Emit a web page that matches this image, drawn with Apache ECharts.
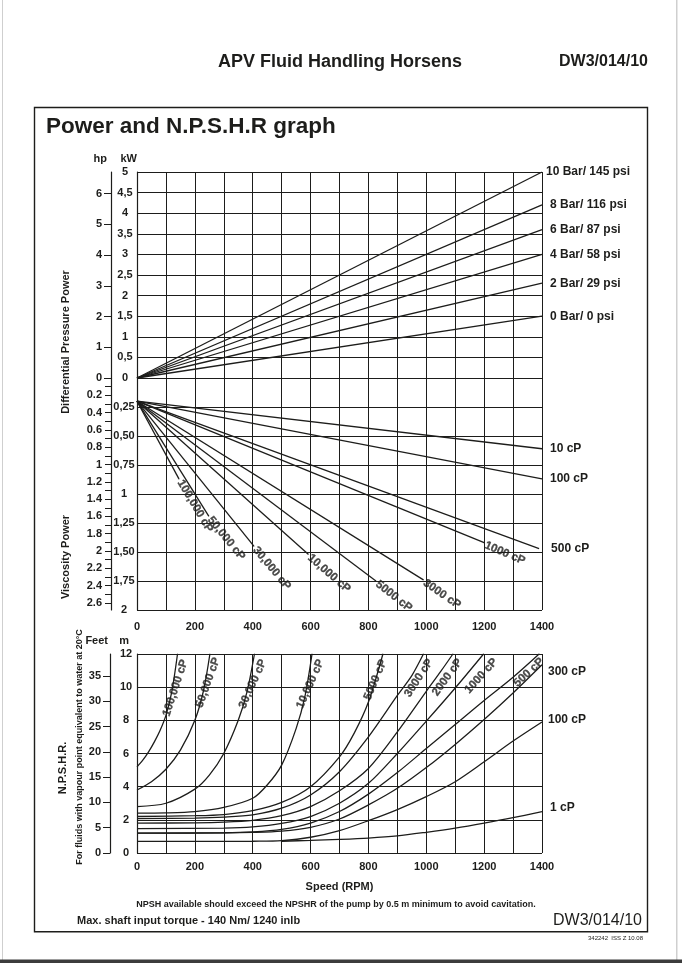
<!DOCTYPE html>
<html><head><meta charset="utf-8">
<script src="https://cdn.jsdelivr.net/npm/echarts@6/dist/echarts.min.js"></script>
<style>html,body{margin:0;padding:0;background:#fff}#c{width:682px;height:963px}</style>
</head><body><div id="c"></div><script>
// ---------- DATA ----------
const rpmMin = 0, rpmMax = 1400;
// Differential pressure power (kW at 1400 rpm, lines from origin)
const pressureNames = ['0 Bar/ 0 psi','2 Bar/ 29 psi','4 Bar/ 58 psi','6 Bar/ 87 psi','8 Bar/ 116 psi','10 Bar/ 145 psi'];
const pressureEndKW = [1.5, 2.3, 3.0, 3.6, 4.2, 5.0];
// Viscosity power (kW), straight lines from start value at 0 rpm
const viscNames = ['10 cP','100 cP','500 cP','1000 cP','3000 cP','5000 cP','10,000 cP','30,000 cP','50,000 cP','100,000 cP'];
const viscStartKW = 0.2;
const viscEndRPM = [1400,1400,1390,1200,990,826,592,404,248,145];
const viscEndKW  = [0.61,0.87,1.47,1.42,1.74,1.75,1.52,1.45,1.19,0.87];
// NPSHR curves [rpm, m]
const npsh100000 = [[0,5.2],[20,5.6],[40,6.1],[60,6.7],[80,7.4],[100,8.3],[120,9.7],[140,12]];
const npsh50000  = [[0,3.8],[50,4.3],[100,5.05],[150,6.2],[200,8.0],[230,9.8],[252,12]];
const npsh30000  = [[0,2.8],[100,3.0],[200,3.85],[250,4.7],[300,6.0],[350,8.0],[380,9.7],[406,12]];
const npsh10000  = [[0,2.4],[100,2.42],[200,2.5],[300,2.75],[400,3.3],[450,4.1],[500,5.3],[550,7.5],[580,9.4],[605,12]];
const npsh5000   = [[0,2.2],[200,2.25],[300,2.32],[400,2.55],[500,3.05],[600,4.0],[700,5.8],[750,7.2],[800,9.1],[850,12]];
const npsh3000   = [[0,2.07],[200,2.1],[300,2.16],[400,2.3],[500,2.7],[600,3.5],[700,4.9],[800,7.0],[900,9.5],[950,10.7],[990,12]];
const npsh2000   = [[0,1.8],[200,1.82],[300,1.86],[400,1.97],[500,2.25],[600,2.8],[700,3.75],[800,5.1],[900,7.3],[1000,9.75],[1050,10.95],[1092,12]];
const npsh1000   = [[0,1.47],[300,1.5],[400,1.57],[500,1.78],[600,2.2],[700,3.0],[800,4.2],[900,6.0],[1000,7.95],[1100,9.95],[1198,12]];
const npsh500    = [[0,1.2],[300,1.22],[400,1.27],[500,1.42],[600,1.8],[700,2.5],[800,3.55],[900,4.85],[1000,6.3],[1100,7.75],[1200,9.2],[1300,10.6],[1390,12]];
const npsh300    = [[0,1.2],[300,1.21],[400,1.24],[500,1.32],[600,1.55],[700,2.05],[800,2.9],[900,3.9],[1000,5.15],[1100,6.55],[1200,8.05],[1300,9.65],[1400,11.35]];
const npsh100    = [[0,0.7],[300,0.7],[400,0.71],[500,0.75],[600,0.95],[700,1.35],[800,1.95],[900,2.62],[1000,3.4],[1100,4.3],[1200,5.5],[1300,6.75],[1400,7.9]];
const npsh1      = [[500,0.71],[600,0.76],[700,0.82],[800,0.9],[900,1.03],[1000,1.25],[1100,1.5],[1200,1.8],[1300,2.13],[1400,2.5]];
const npshCurves = [npsh100000,npsh50000,npsh30000,npsh10000,npsh5000,npsh3000,npsh2000,npsh1000,npsh500,npsh300,npsh100,npsh1];
const npshNames  = ['100,000 cP','50,000 cP','30,000 cP','10,000 cP','5000 cP','3000 cP','2000 cP','1000 cP','500 cP','300 cP','100 cP','1 cP'];
// tick label sets
const hpUpperTicks = [0,1,2,3,4,5,6];
const hpLowerTicks = [0.2,0.4,0.6,0.8,1,1.2,1.4,1.6,1.8,2,2.2,2.4,2.6];
const hpLowerMinor = [0.1,0.2,0.3,0.4,0.5,0.6,0.7,0.8,0.9,1,1.1,1.2,1.3,1.4,1.5,1.6,1.7,1.8,1.9,2,2.1,2.2,2.3,2.4,2.5,2.6];
const kwViscTicks = [0.25,0.5,0.75,1,1.25,1.5,1.75,2];
const feetTicks = [0,5,10,15,20,25,30,35];
const KW_PER_HP = 0.7457, M_PER_FT = 0.3048;

// ---------- STYLE ----------
const FONT = '"Liberation Sans", Arial, Helvetica, sans-serif';
const INK = '#1d1d1b';
const GL = {left:137, width:405};
const lab = (size, extra) => Object.assign({color:INK, fontFamily:FONT, fontWeight:'bold', fontSize:size}, extra||{});
const gridLine = {show:true, lineStyle:{color:INK, width:1}};
const axLine = {show:true, lineStyle:{color:INK, width:1.2}};
const xLabelFmt = v => (v % 200 === 0 ? String(v) : '');

function txt(x, y, text, size, weight, align, rot) {
  return {type:'text', x:x, y:y, rotation:rot||0, z:20,
    style:{text:text, fill:INK, fontFamily:FONT, fontSize:size, fontWeight:weight,
      align:align||'left', textAlign:align||'left', verticalAlign:'middle', textVerticalAlign:'middle'}};
}

const xAxes = [0,1,2].map(i => ({
  type:'value', gridIndex:i, min:rpmMin, max:rpmMax, interval:100,
  axisLine:{show:false}, axisTick:{show:false}, splitLine:gridLine,
  axisLabel: i===0 ? {show:false} : lab(11, {formatter:xLabelFmt, margin: i===1 ? 11 : 8}),
  name: i===2 ? 'Speed (RPM)' : '', nameLocation:'middle', nameGap:28,
  nameTextStyle: lab(11)
}));

const yAxes = [
  {type:'value', gridIndex:0, min:0, max:5, interval:0.5, axisLine:axLine, axisTick:{show:false},
   splitLine:gridLine,
   axisLabel: lab(11, {align:'center', margin:12, formatter: v => String(v).replace('.',',')}),
   name:'kW', nameLocation:'end', nameGap:8, nameTextStyle: lab(11, {align:'right'})},
  {type:'value', gridIndex:0, min:0, max:5/KW_PER_HP, position:'left', offset:26,
   axisLine:axLine, splitLine:{show:false},
   axisTick:{show:true, length:7, customValues:hpUpperTicks, lineStyle:{color:INK}},
   axisLabel: lab(11, {margin:9, customValues:hpUpperTicks, formatter: v => String(v)}),
   name:'hp', nameLocation:'end', nameGap:8, nameTextStyle: lab(11, {align:'right', padding:[0,4,0,0]})},
  {type:'value', gridIndex:1, min:0, max:2, interval:0.25, inverse:true, axisLine:axLine, axisTick:{show:false},
   splitLine:gridLine,
   axisLabel: lab(11, {align:'center', margin:13, customValues:kwViscTicks,
     formatter: v => Number.isInteger(v) ? String(v) : v.toFixed(2).replace('.',',')})},
  {type:'value', gridIndex:1, min:0, max:2/KW_PER_HP, inverse:true, position:'left', offset:26,
   axisLine:axLine, splitLine:{show:false},
   axisTick:{show:true, length:6, customValues:hpLowerMinor, lineStyle:{color:INK}},
   axisLabel: lab(11, {margin:9, customValues:hpLowerTicks, formatter: v => String(parseFloat(v.toFixed(1)))})},
  {type:'value', gridIndex:2, min:0, max:12, interval:2, axisLine:axLine, axisTick:{show:false},
   splitLine:gridLine,
   axisLabel: lab(11, {align:'center', margin:11}),
   name:'m', nameLocation:'end', nameGap:8, nameTextStyle: lab(11, {align:'right', padding:[0,8,0,0]})},
  {type:'value', gridIndex:2, min:0, max:12/M_PER_FT, position:'left', offset:27,
   axisLine:axLine, splitLine:{show:false},
   axisTick:{show:true, length:7, customValues:feetTicks, lineStyle:{color:INK}},
   axisLabel: lab(11, {margin:9, customValues:feetTicks, formatter: v => String(v)}),
   name:'Feet', nameLocation:'end', nameGap:8, nameTextStyle: lab(11, {align:'right', padding:[0,2,0,0]})}
];

const lineStyle = {color:INK, width:1.3};
const series = [];
pressureNames.forEach((n, i) => {
  series.push({type:'line', xAxisIndex:0, yAxisIndex:0, symbol:'none', silent:true, animation:false,
    data:[[0,0],[rpmMax, pressureEndKW[i]]], lineStyle:lineStyle,
    endLabel:{show:true, formatter:n, distance: i===5 ? 4 : 8, color:INK, fontFamily:FONT, fontWeight:'bold', fontSize:12}});
});
const viscRot = {'1000 cP':-23,'3000 cP':-35,'5000 cP':-38,'10,000 cP':-41,'30,000 cP':-50,'50,000 cP':-51,'100,000 cP':-59};
viscNames.forEach((n, i) => {
  const horiz = !(n in viscRot);
  series.push({type:'line', xAxisIndex:1, yAxisIndex:2, symbol:'none', silent:true, animation:false,
    data:[[0,viscStartKW],[viscEndRPM[i], viscEndKW[i]]], lineStyle:lineStyle,
    endLabel:{show:horiz, formatter:n, distance: viscEndRPM[i] < rpmMax ? 12 : 8, color:INK, fontFamily:FONT, fontWeight:'bold', fontSize:12}});
});
// label offset is applied in the rotated text frame: convert a screen shift into that frame
function frameOffset(rotDeg, dx, dy) {
  const t = rotDeg * Math.PI / 180;
  return [dx * Math.cos(t) - dy * Math.sin(t), dx * Math.sin(t) + dy * Math.cos(t)];
}
const rotLabel = (text, rot, align, scr) => ({show:true, formatter:text, position:'inside', align:align, verticalAlign:'middle',
  rotate:rot, offset:frameOffset(rot, scr[0], scr[1]), color:INK, fontFamily:FONT, fontWeight:'bold', fontSize:11.5,
  textBorderColor:INK, textBorderWidth:0.3});
series.push({type:'scatter', xAxisIndex:1, yAxisIndex:2, symbol:'circle', symbolSize:1, silent:true, animation:false,
  itemStyle:{color:INK},
  data: viscNames.map((n,i) => ({value:[viscEndRPM[i], viscEndKW[i]], name:n})).filter(d => d.name in viscRot)
    .map(d => Object.assign(d, {label: rotLabel(d.name, viscRot[d.name], 'left', [1,2])}))
});
const npshRot = {'100,000 cP':[72,7,6],'50,000 cP':[70,7,4],'30,000 cP':[66,9,6],'10,000 cP':[66,9,6],'5000 cP':[67,1,6],
  '3000 cP':[57,7,6],'2000 cP':[54,7,6],'1000 cP':[48,12,6],'500 cP':[43,3,6]};
const npshRightOff = {'300 cP':[0,7],'100 cP':[0,-2],'1 cP':[2,-4]};
npshCurves.forEach((c, i) => {
  const n = npshNames[i];
  series.push({type:'line', xAxisIndex:2, yAxisIndex:4, symbol:'none', silent:true, animation:false,
    smooth:0.3, data:c, lineStyle:lineStyle,
    endLabel:{show: n in npshRightOff, formatter:n, distance:6, offset:npshRightOff[n]||[0,0],
      color:INK, fontFamily:FONT, fontWeight:'bold', fontSize:12}});
});
series.push({type:'scatter', xAxisIndex:2, yAxisIndex:4, symbol:'circle', symbolSize:1, silent:true, animation:false,
  itemStyle:{color:INK},
  data: npshNames.map((n,i) => ({value:npshCurves[i][npshCurves[i].length-1], name:n})).filter(d => d.name in npshRot)
    .map(d => Object.assign(d, {label: rotLabel(d.name, npshRot[d.name][0], 'right', [npshRot[d.name][1], npshRot[d.name][2]])}))
});

const graphic = [
  {type:'rect', shape:{x:2, y:0, width:1, height:960}, style:{fill:'#cfcfcf'}, z:1},
  {type:'rect', shape:{x:676, y:0, width:1.5, height:960}, style:{fill:'#cfcfcf'}, z:1},
  {type:'rect', shape:{x:0, y:959.5, width:682, height:4}, style:{fill:'#3c3c3c'}, z:1},
  {type:'rect', shape:{x:34.5, y:107.5, width:613, height:824.2}, style:{fill:'none', stroke:INK, lineWidth:1.4}, z:1},
  txt(340, 62, 'APV Fluid Handling Horsens', 18, 'bold', 'center'),
  txt(648, 62, 'DW3/014/10', 16, 'bold', 'right'),
  txt(46, 127, 'Power and N.P.S.H.R graph', 22.5, 'bold', 'left'),
  txt(66, 342, 'Differential Pressure Power', 11, 'bold', 'center', Math.PI/2),
  txt(66, 557, 'Viscosity Power', 11, 'bold', 'center', Math.PI/2),
  txt(63, 768, 'N.P.S.H.R.', 11, 'bold', 'center', Math.PI/2),
  txt(80, 747, 'For fluids with vapour point equivalent to water at 20°C', 9, 'bold', 'center', Math.PI/2),
  txt(336, 905, 'NPSH available should exceed the NPSHR of the pump by 0.5 m minimum to avoid cavitation.', 9, 'bold', 'center'),
  txt(77, 921, 'Max. shaft input torque - 140 Nm/ 1240 inlb', 11, 'bold', 'left'),
  txt(642, 921, 'DW3/014/10', 16, 'normal', 'right'),
  txt(643, 938, '342242  ISS Z 10.08', 6, 'normal', 'right')
];

const chart = echarts.init(document.getElementById('c'), null, {renderer:'canvas'});
chart.setOption({
  animation:false, backgroundColor:'#fff',
  grid:[
    Object.assign({top:172, height:206}, GL),
    Object.assign({top:378, height:232}, GL),
    Object.assign({top:654, height:199}, GL)
  ],
  xAxis:xAxes, yAxis:yAxes, series:series, graphic:graphic
});
</script></body></html>
